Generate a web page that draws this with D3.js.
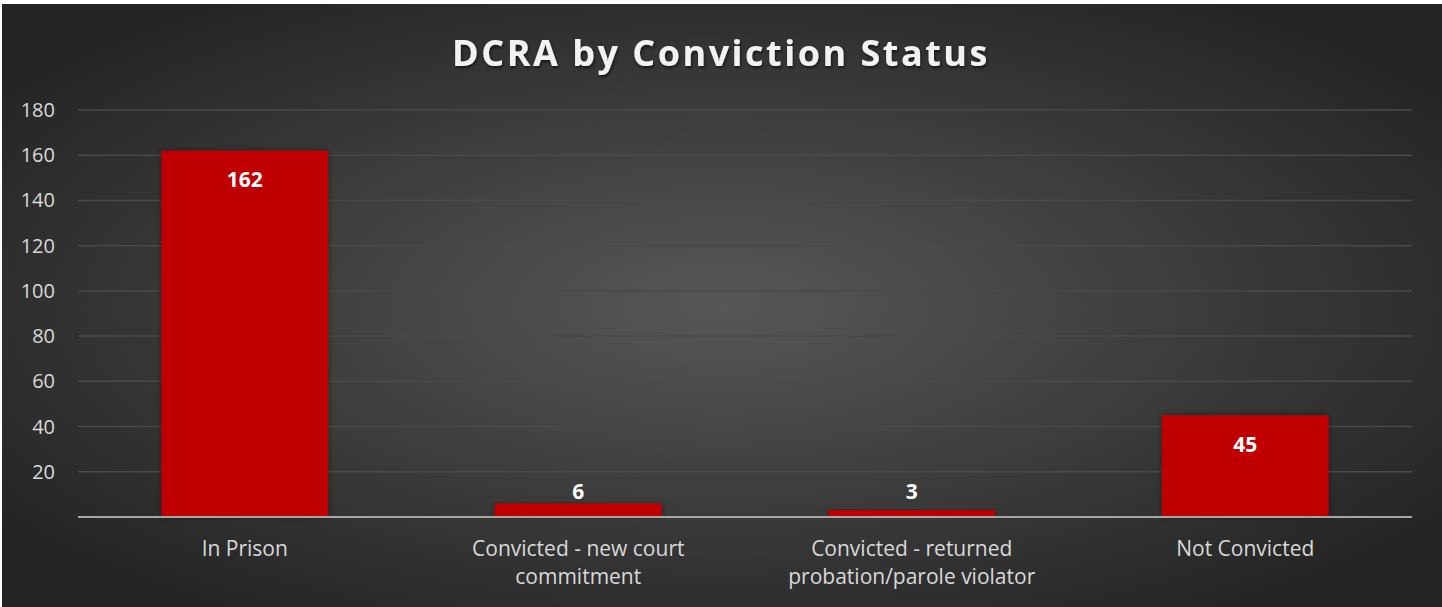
<!DOCTYPE html>
<html>
<head>
<meta charset="utf-8">
<script src="https://cdn.jsdelivr.net/npm/d3@7"></script>
<style>
  body { margin: 0; background: #fff; }
  svg { display: block; }
</style>
</head>
<body>
<svg id="chart" width="1442" height="607"></svg>
<script>
const categories = [
    ["In Prison"],
    ["Convicted - new court", "commitment"],
    ["Convicted - returned", "probation/parole violator"],
    ["Not Convicted"]
];
const values = [162, 6, 3, 45];
const yTicks = [20, 40, 60, 80, 100, 120, 140, 160, 180];

const svg = d3.select("#chart");
const width = +svg.attr("width");
const height = +svg.attr("height");

// fondo con degradado radial
const defs = svg.append("defs");
const grad = defs.append("radialGradient")
    .attr("id", "bg")
    .attr("cx", "50%").attr("cy", "50%")
    .attr("r", "62%")
    .attr("gradientUnits", "objectBoundingBox");
grad.append("stop").attr("offset", "0%").attr("stop-color", "#575757");
grad.append("stop").attr("offset", "100%").attr("stop-color", "#242424");

const shadow = defs.append("filter").attr("id", "shadow")
    .attr("x", "-10%").attr("y", "-10%").attr("width", "120%").attr("height", "120%");
shadow.append("feDropShadow")
    .attr("dx", 0).attr("dy", 0).attr("stdDeviation", 3)
    .attr("flood-color", "#000").attr("flood-opacity", 0.45);

const titleShadow = defs.append("filter").attr("id", "tshadow");
titleShadow.append("feDropShadow")
    .attr("dx", 1).attr("dy", 2).attr("stdDeviation", 1.5)
    .attr("flood-color", "#000").attr("flood-opacity", 0.6);

svg.append("rect")
    .attr("x", 2).attr("y", 4)
    .attr("width", width - 2).attr("height", height - 4)
    .attr("fill", "url(#bg)");

const margin = { left: 78, right: 30, top: 110, bottom: 90 };
const x = d3.scaleBand()
    .domain(d3.range(categories.length))
    .range([margin.left, width - margin.right])
    .paddingInner(0.5)
    .paddingOuter(0.25);

const y = d3.scaleLinear()
    .domain([0, 180])
    .range([517, 110]);

// líneas de la cuadrícula
svg.append("g")
    .selectAll("line")
    .data(yTicks)
    .enter()
    .append("line")
    .attr("x1", margin.left)
    .attr("x2", width - margin.right)
    .attr("y1", d => y(d))
    .attr("y2", d => y(d))
    .attr("stroke", "#4a4a4a")
    .attr("stroke-width", 1.5);

// etiquetas del eje Y
svg.append("g")
    .selectAll("text")
    .data(yTicks)
    .enter()
    .append("text")
    .attr("x", 55)
    .attr("y", d => y(d))
    .attr("dy", "0.35em")
    .attr("text-anchor", "end")
    .attr("fill", "#d9d9d9")
    .attr("font-family", "'Open Sans', sans-serif")
    .attr("font-size", "20px")
    .text(d => d);

// barras
svg.append("g")
    .selectAll("rect")
    .data(values)
    .enter()
    .append("rect")
    .attr("x", (d, i) => x(i))
    .attr("y", d => y(d))
    .attr("width", x.bandwidth())
    .attr("height", d => y(0) - y(d))
    .attr("fill", "#c00000")
    .attr("filter", "url(#shadow)");

// línea base
svg.append("line")
    .attr("x1", margin.left)
    .attr("x2", width - margin.right)
    .attr("y1", y(0))
    .attr("y2", y(0))
    .attr("stroke", "#a6a6a6")
    .attr("stroke-width", 2);

// etiquetas de datos: dentro si la barra es alta, encima si no
svg.append("g")
    .selectAll("text")
    .data(values)
    .enter()
    .append("text")
    .attr("x", (d, i) => x(i) + x.bandwidth() / 2)
    .attr("y", d => (y(0) - y(d) > 40) ? y(d) + 29 : Math.min(y(d) - 11, y(0) - 25))
    .attr("dy", "0.35em")
    .attr("text-anchor", "middle")
    .attr("fill", "#ffffff")
    .attr("font-family", "'Open Sans', sans-serif")
    .attr("font-weight", "bold")
    .attr("font-size", "21px")
    .text(d => d);

// etiquetas del eje X
const xl = svg.append("g")
    .selectAll("text")
    .data(categories)
    .enter()
    .append("text")
    .attr("x", (d, i) => x(i) + x.bandwidth() / 2)
    .attr("y", 549)
    .attr("text-anchor", "middle")
    .attr("fill", "#d9d9d9")
    .attr("font-family", "'Open Sans', sans-serif")
    .attr("font-size", "21px");

xl.each(function(lines, i) {
    const t = d3.select(this);
    lines.forEach((line, j) => {
        t.append("tspan")
            .attr("x", x(i) + x.bandwidth() / 2)
            .attr("y", 549 + j * 28)
            .attr("dy", "0.35em")
            .text(line);
    });
});

// título
svg.append("text")
    .attr("x", 721)
    .attr("y", 53)
    .attr("dy", "0.35em")
    .attr("text-anchor", "middle")
    .attr("fill", "#f2f2f2")
    .attr("font-family", "'Open Sans', sans-serif")
    .attr("font-weight", "bold")
    .attr("font-size", "36px")
    .attr("letter-spacing", "2.5px")
    .attr("filter", "url(#tshadow)")
    .text("DCRA by Conviction Status");
</script>
</body>
</html>
